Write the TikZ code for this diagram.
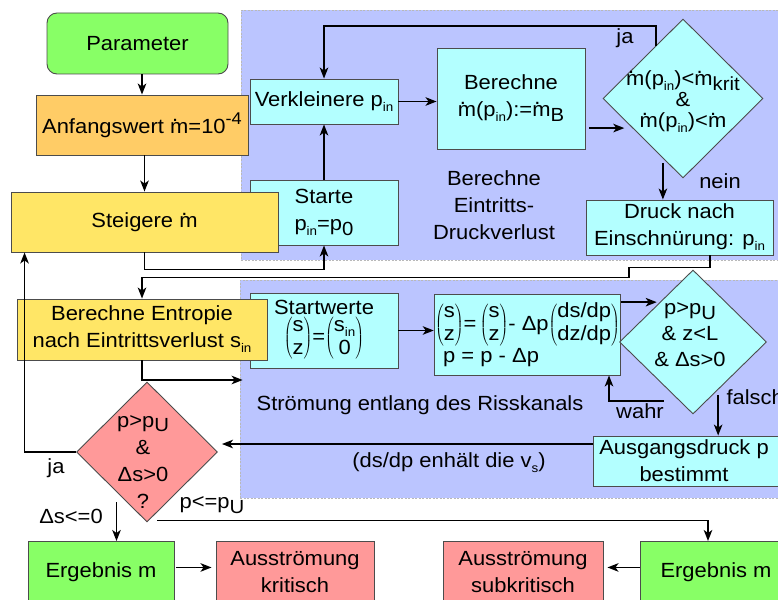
\documentclass[tikz,border=0pt]{standalone}
\usepackage{fontspec}
\setmainfont{Liberation Sans}[FakeStretch=1.07]
\usetikzlibrary{shapes.geometric,arrows.meta,calc}
\definecolor{gruen}{HTML}{88FF66}
\definecolor{orng}{HTML}{FFCC66}
\definecolor{gelb}{HTML}{FFE666}
\definecolor{tuerkis}{HTML}{B3FFFF}
\definecolor{rot}{HTML}{FF9999}
\definecolor{blau}{HTML}{BBC5FF}
\tikzset{
    blk/.style={draw=black!70, line width=0.9pt, inner sep=1pt, align=center},
    panel/.style={draw=gray!55, dash pattern=on 2pt off 1.5pt, line width=0.7pt, fill=blau, inner sep=0pt},
    dec/.style={diamond, draw=black!70, line width=0.9pt, inner sep=0pt},
    flow/.style={-{Stealth[length=11pt,width=8.5pt,inset=3pt]}, line width=1.8pt}}
\newcommand\mpkt{\makebox[0pt][l]{\hspace{0.1em}\raisebox{0.58em}{.}}m}
\newcommand\klein[1]{\raisebox{-0.25em}{\fontsize{12.5}{12.5}\selectfont #1}}
\newcommand\tief[1]{\raisebox{-0.22em}{\fontsize{19}{19}\selectfont #1}}
\newcommand\vek[2]{$\left(\begin{array}{@{}c@{}}\mbox{#1}\\\mbox{#2}\end{array}\right)$}
\renewcommand\arraystretch{0.85}
\begin{document}
\begin{tikzpicture}[x=1pt,y=-1pt,font=\fontsize{20.5}{27}\selectfont]
    \useasboundingbox (0,0) rectangle (778,599);
    \clip (0,0) rectangle (778,599);

    % Hintergrund
    \node[panel, minimum width=560pt, minimum height=250pt] (pan1) at (521,135) {};
    \node[panel, minimum width=560pt, minimum height=218pt] (pan2) at (520,389) {};

    % Bloecke
    \node[blk, fill=gruen, rounded corners=10pt, minimum width=181pt, minimum height=61pt] (param) at (137.5,43.5) {Parameter};
    \node[blk, fill=orng, minimum width=212pt, minimum height=60pt] (anfang) at (142,125) {Anfangswert \mpkt=10\raisebox{0.45em}{\fontsize{17}{17}\selectfont -4}};
    \node[blk, fill=tuerkis, minimum width=148pt, minimum height=45pt] (verkl) at (324,101.5) {Verkleinere p\klein{in}};
    \node[blk, fill=tuerkis, minimum width=148pt, minimum height=65pt] (starte) at (324,212.5) {Starte\\p\klein{in}=p\tief{0}};
    \node[blk, fill=gelb, minimum width=267pt, minimum height=60pt] (steig) at (144.5,222) {Steigere \mpkt};
    \node[blk, fill=tuerkis, minimum width=148pt, minimum height=101pt] (berm) at (511,98.5) {Berechne\\\mpkt(p\klein{in}):=\mpkt\tief{B}};
    \node[dec, fill=tuerkis, minimum width=160pt, minimum height=159pt] (dia1) at (683,98.5) {};
    \node[align=center, font=\fontsize{20.5}{21}\selectfont] (dia1t) at (683,102) {\mpkt(p\klein{in})<\mpkt\tief{krit}\\\&\\\mpkt(p\klein{in})<\mpkt};
    \node[blk, fill=tuerkis, minimum width=187pt, minimum height=55pt] (druck) at (679.5,227.5) {Druck nach\\Einschnürung: p\klein{in}};

    \node[blk, fill=tuerkis, minimum width=148pt, minimum height=75pt] (startw) at (324,330.5) {Startwerte\\\vek{s}{z}=\vek{s\klein{in}}{0}};
    \node[blk, fill=gelb, minimum width=250pt, minimum height=61pt] (entropie) at (142,329.5) {Berechne Entropie\\nach Eintrittsverlust s\klein{in}};
    \node[blk, fill=tuerkis, minimum width=181pt, minimum height=81pt, align=left] (ode) at (527.5,334.5) {\vek{s}{z}=\,\vek{s}{z}- Δp\vek{ds/dp}{dz/dp}\\\hspace*{8pt}p = p - Δp};
    \node[dec, fill=tuerkis, minimum width=147pt, minimum height=144pt] (dia2) at (693,342) {};
    \node[align=center, font=\fontsize{20.5}{26}\selectfont] (dia2t) at (690,335) {p>p\tief{U}\\\& z<L\\\& Δs>0};
    \node[blk, fill=tuerkis, minimum width=210pt, minimum height=50pt] (ausg) at (698,461) {};
    \node[align=center] (ausgt) at (684,461) {Ausgangsdruck p\\bestimmt};
    \node[dec, fill=rot, minimum width=141pt, minimum height=140pt] (dia3) at (147,452) {};
    \node[align=center] (dia3t) at (143,462) {p>p\tief{U}\\\&\\Δs>0\\?};

    \node[blk, fill=gruen, anchor=north, minimum width=146pt, minimum height=62pt] (erg1) at (101,541) {Ergebnis m};
    \node[blk, fill=rot, anchor=north, minimum width=158pt, minimum height=62pt] (krit) at (295,541) {Ausströmung\\kritisch};
    \node[blk, fill=rot, anchor=north, minimum width=160pt, minimum height=62pt] (subkrit) at (523,541) {Ausströmung\\subkritisch};
    \node[blk, fill=gruen, anchor=north, minimum width=152pt, minimum height=62pt] (erg2) at (716,541) {Ergebnis m};

    % Beschriftungen
    \node (ja1) at (625,38) {ja};
    \node (nein) at (720,181) {nein};
    \node[align=center] (eintr) at (494,205) {Berechne\\Eintritts-\\Druckverlust};
    \node (strom) at (420,405) {Strömung entlang des Risskanals};
    \node (wahr) at (640,411) {wahr};
    \node[anchor=west] (falsch) at (723,397) {falsch};
    \node (dsdp) at (449,463) {(ds/dp enhält die v\klein{s})};
    \node (ja2) at (56,468) {ja};
    \node (dsle) at (71,516) {Δs<=0};
    \node (ple) at (212,505) {p<=p\tief{U}};

    % Verbindungen
    \coordinate (d1ja) at ($(dia1.west)!0.66!(dia1.north)$);
    \coordinate (d1in) at ($(dia1.west)!0.37!(dia1.south)$);
    \coordinate (d1nein) at ($(dia1.south)!0.25!(dia1.west)$);
    \coordinate (d2in) at ($(dia2.west)!0.55!(dia2.north)$);
    \coordinate (d2wahr) at ($(dia2.south)!0.19!(dia2.west)$);
    \coordinate (d2f) at ($(dia2.south)!0.34!(dia2.east)$);
    \coordinate (d3s) at ($(dia3.west)!0.57!(dia3.south)$);

    \draw[flow] (anfang.north |- param.south) -- (anfang.north);
    \draw[flow] (steig.north |- anfang.south) -- (steig.north);
    \draw[flow] (steig.south) -- ++(0,17) -| (starte.south);
    \draw[flow] (starte) -- (verkl);
    \draw[flow] (d1ja) -- ++(0,-20) -| (verkl.north);
    \draw[flow] (verkl.east) -- (verkl.east -| berm.west);
    \draw[flow] ($(berm.east |- d1in)+(4,0)$) -- ($(d1in)+(-8,0)$);
    \draw[flow] ($(d1nein)+(0,5)$) -- (d1nein |- druck.north);
    \draw[flow] ($(druck.south)+(30.5,0)$) -- ++(0,12) -- ++(-81,0) -- ++(0,10) -| (entropie.north);
    \draw[flow] (entropie.south) |- ($(pan2.west)+(3,-9)$);
    \draw[flow] (startw.east) -- (startw.east -| ode.west);
    \draw[flow] (ode.east |- d2in) -- ($(d2in)+(-3,0)$);
    \draw[flow] ($(d2wahr)+(-15,0)$) -| ($(ode.south)+(81.5,0)$);
    \draw[flow] ($(d2f)+(0,5)$) -- (d2f |- ausg.north);
    \draw[flow] ($(ausg.west)+(0,-17)$) -- ($(dia3.east)+(4,-8)$);
    \draw[flow] (dia3.west) -| ($(steig.south west)+(14,0)$);
    \draw[flow] ($(d3s)+(0,10)$) -- (d3s |- erg1.north);
    \draw[flow] ($(dia3.south)+(10,-2)$) -| ($(erg2.north)+(-8,0)$);
    \draw[flow] ($(erg1.east)+(2,-5)$) -- ($(krit.west)+(-4,-5)$);
    \draw[flow] ($(erg2.west)+(0,-5)$) -- ($(subkrit.east)+(4,-5)$);

\end{tikzpicture}
\end{document}
